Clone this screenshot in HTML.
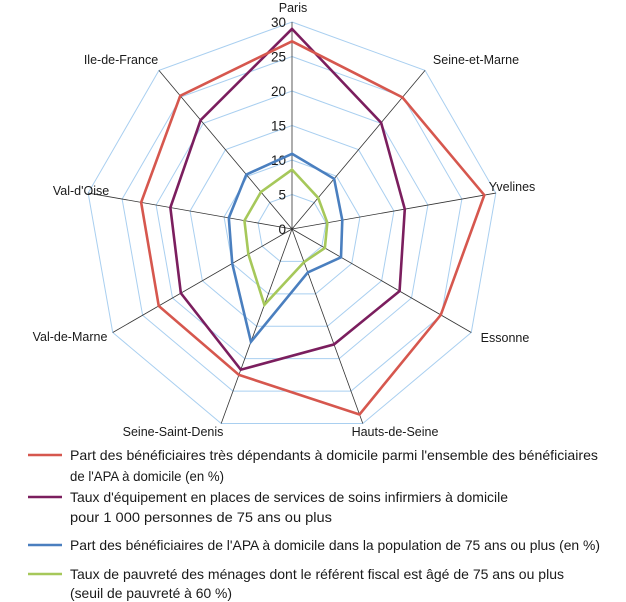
<!DOCTYPE html>
<html><head><meta charset="utf-8"><style>
html,body{margin:0;padding:0;background:#fff}
svg{display:block}
text{font-family:"Liberation Sans",sans-serif;fill:#1a1a1a}
</style></head><body>
<svg id="s" width="626" height="602" viewBox="0 0 626 602" xmlns="http://www.w3.org/2000/svg">
<g id="grid"></g>
<g id="series"></g>
<g font-size="12.5">
<text x="293" y="12" text-anchor="middle">Paris</text>
<text x="476" y="64" text-anchor="middle">Seine-et-Marne</text>
<text x="512" y="191" text-anchor="middle">Yvelines</text>
<text x="505" y="342" text-anchor="middle">Essonne</text>
<text x="395" y="436" text-anchor="middle">Hauts-de-Seine</text>
<text x="173" y="436" text-anchor="middle">Seine-Saint-Denis</text>
<text x="70" y="341" text-anchor="middle">Val-de-Marne</text>
<text x="81" y="195" text-anchor="middle">Val-d'Oise</text>
<text x="121" y="64" text-anchor="middle">Ile-de-France</text>
</g>
<g font-size="14">
<line x1="28" y1="455" x2="62" y2="455" stroke="#d6574e" stroke-width="2.5"/>
<text x="70" y="460" textLength="528" lengthAdjust="spacingAndGlyphs">Part des bénéficiaires très dépendants à domicile parmi l'ensemble des bénéficiaires</text>
<text x="70" y="481" textLength="154" lengthAdjust="spacingAndGlyphs">de l'APA à domicile (en %)</text>
<line x1="28" y1="497" x2="62" y2="497" stroke="#7b1e5e" stroke-width="2.5"/>
<text x="70" y="502" textLength="438" lengthAdjust="spacingAndGlyphs">Taux d'équipement en places de services de soins infirmiers à domicile</text>
<text x="70" y="522" textLength="262" lengthAdjust="spacingAndGlyphs">pour 1 000 personnes de 75 ans ou plus</text>
<line x1="28" y1="545" x2="62" y2="545" stroke="#4a7fbf" stroke-width="2.5"/>
<text x="70" y="550" textLength="530" lengthAdjust="spacingAndGlyphs">Part des bénéficiaires de l'APA à domicile dans la population de 75 ans ou plus (en %)</text>
<line x1="28" y1="574" x2="62" y2="574" stroke="#a6c85a" stroke-width="2.5"/>
<text x="70" y="579" textLength="494" lengthAdjust="spacingAndGlyphs">Taux de pauvreté des ménages dont le référent fiscal est âgé de 75 ans ou plus</text>
<text x="70" y="598" textLength="162" lengthAdjust="spacingAndGlyphs">(seuil de pauvreté à 60 %)</text>
</g>
</svg>
<script>
(function(){
var cx=292,cy=229,R=207,N=9,ns="http://www.w3.org/2000/svg";
function pt(i,v){var a=i*2*Math.PI/N;var r=v/30*R;return [cx+r*Math.sin(a),cy-r*Math.cos(a)];}
var g=document.getElementById('grid'),s=document.getElementById('series');
function el(p,t,at){var e=document.createElementNS(ns,t);for(var k in at)e.setAttribute(k,at[k]);p.appendChild(e);return e;}
for(var k=1;k<=6;k++){var pts=[];for(var i=0;i<N;i++)pts.push(pt(i,k*5).join(','));
el(g,'polygon',{points:pts.join(' '),fill:'none',stroke:'#a9cff0','stroke-width':1});}
for(var i=0;i<N;i++){var p=pt(i,30);el(g,'line',{x1:cx,y1:cy,x2:p[0],y2:p[1],stroke:'#333','stroke-width':0.8});}
for(var k=0;k<=6;k++){var t=el(g,'text',{x:286,y:cy-k*5/30*R+5,'text-anchor':'end','font-size':'13.5'});t.textContent=k*5;}
var data=[
['#7b1e5e',[29,20.1,16.6,18,17.8,21.7,18.6,17.9,20.6]],
['#d6574e',[27.2,24.9,28.3,24.9,28.6,22.5,22.3,22.2,25.2]],
['#4a7fbf',[10.9,9.5,7.4,8.2,6.7,17.4,10,9.3,10.3]],
['#a6c85a',[8.6,5.9,5.2,5.5,5.1,11.7,7.3,7,7]]];
data.forEach(function(d){var pts=d[1].map(function(v,i){return pt(i,v).join(',');});
el(s,'polygon',{points:pts.join(' '),fill:'none',stroke:d[0],'stroke-width':2.6,'stroke-linejoin':'miter'});});
})();
</script>
</body></html>
